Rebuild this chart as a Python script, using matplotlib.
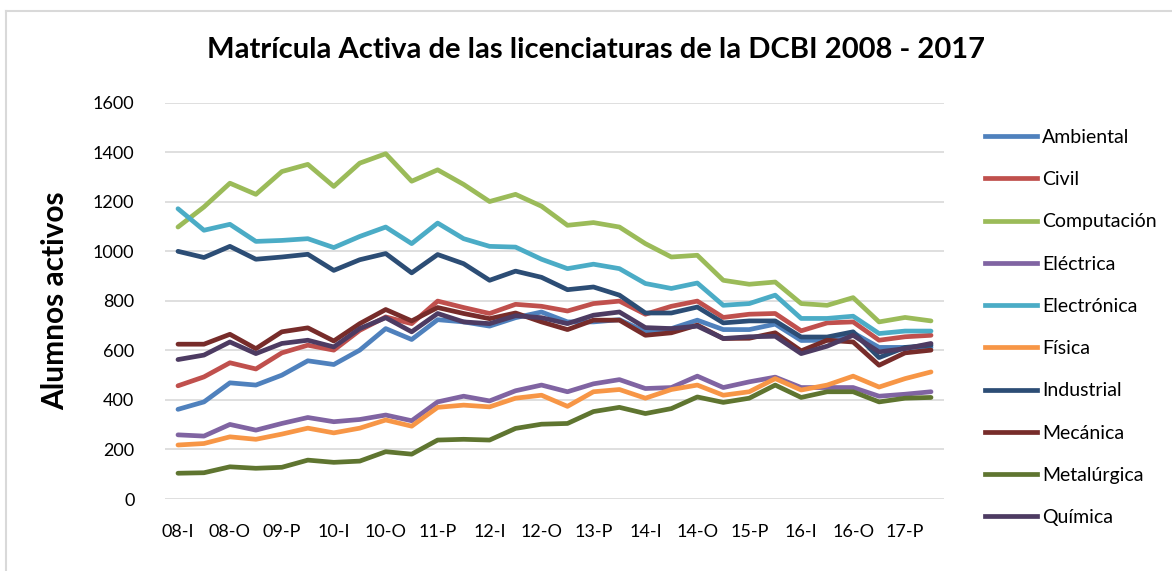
import numpy as np
import matplotlib
matplotlib.use("Agg")
import matplotlib.pyplot as plt
from matplotlib.lines import Line2D

plt.rcParams['font.family'] = ['Lato', 'DejaVu Sans']

# trimestres 08-I ... 17-O
periods = []
for yr in range(8, 18):
    for t in ['I', 'P', 'O']:
        periods.append('%02d-%s' % (yr, t))

ambiental = [362, 392, 469, 460, 500, 558, 543, 601, 688, 644, 724, 715, 698, 732, 755,
             715, 715, 724, 675, 688, 722, 684, 684, 706, 640, 641, 671, 612, 612, 612]
civil = [457, 493, 550, 525, 590, 621, 601, 681, 735, 708, 799, 773, 749, 786, 778,
         759, 789, 799, 746, 778, 799, 733, 746, 749, 679, 711, 715, 641, 655, 661]
computacion = [1098, 1179, 1275, 1230, 1322, 1351, 1262, 1356, 1394, 1283, 1329, 1270, 1201, 1230, 1182,
               1105, 1116, 1098, 1031, 977, 984, 883, 867, 876, 789, 782, 813, 715, 733, 719]
electrica = [259, 254, 301, 278, 305, 329, 312, 321, 339, 316, 392, 415, 396, 437, 460,
             433, 465, 482, 446, 450, 496, 450, 473, 492, 450, 450, 450, 415, 423, 433]
electronica = [1172, 1085, 1109, 1040, 1044, 1051, 1015, 1060, 1098, 1031, 1114, 1051, 1020, 1017, 968,
               930, 948, 930, 870, 850, 872, 782, 789, 823, 729, 729, 738, 668, 678, 678]
fisica = [218, 224, 251, 241, 262, 286, 267, 286, 319, 294, 370, 379, 372, 407, 419,
          374, 433, 442, 407, 442, 460, 419, 433, 486, 440, 460, 496, 452, 486, 513]
industrial = [1000, 975, 1020, 968, 977, 988, 923, 966, 991, 913, 987, 950, 883, 920, 895,
              845, 856, 823, 751, 751, 775, 711, 719, 719, 654, 654, 675, 571, 612, 621]
mecanica = [625, 625, 665, 607, 675, 691, 638, 708, 765, 719, 773, 749, 728, 751, 715,
            684, 722, 722, 661, 671, 702, 648, 649, 671, 598, 641, 634, 540, 590, 601]
metalurgica = [104, 106, 130, 124, 128, 157, 148, 153, 191, 181, 238, 241, 238, 285, 302,
               305, 353, 370, 345, 365, 412, 390, 407, 460, 410, 433, 433, 392, 407, 410]
quimica = [563, 581, 634, 587, 628, 641, 614, 688, 732, 675, 749, 715, 708, 740, 732,
           708, 742, 755, 692, 688, 698, 648, 655, 657, 587, 617, 661, 594, 607, 628]

names = ['Ambiental', 'Civil', 'Computación', 'Eléctrica', 'Electrónica',
         'Física', 'Industrial', 'Mecánica', 'Metalúrgica', 'Química']
series = [ambiental, civil, computacion, electrica, electronica,
          fisica, industrial, mecanica, metalurgica, quimica]
colors = ['#4F81BD', '#C0504D', '#9BBB59', '#8064A2', '#4BACC6',
          '#F79646', '#2C4D75', '#772C2A', '#5F7530', '#4D3B62']

fig = plt.figure(figsize=(11.72, 5.71), dpi=100)
ax = fig.add_axes([165 / 1172, 72 / 571, 779 / 1172, 396.3 / 571])

x = np.arange(len(periods))
for name, vals, c in zip(names, series, colors):
    ax.plot(x, vals, color=c, lw=3.4, label=name, solid_capstyle='round',
            solid_joinstyle='round')

ax.set_xlim(-0.5, len(periods) - 0.5)
ax.set_ylim(0, 1600)
ax.set_yticks(range(0, 1601, 200))
ax.set_xticks(x[::2])
ax.set_xticklabels(periods[::2])
ax.grid(axis='y', color='#d9d9d9', lw=1.2)
ax.set_axisbelow(True)
for s in ax.spines.values():
    s.set_visible(False)
ax.tick_params(length=0, labelsize=13, colors='#000000')
ax.tick_params(axis='y', pad=22)
ax.tick_params(axis='x', pad=18)

ax.set_ylabel('Alumnos activos', fontsize=21.5, fontweight='bold', labelpad=17)
fig.text(596 / 1172, 1 - 50 / 571, 'Matrícula Activa de las licenciaturas de la DCBI 2008 - 2017',
         ha='center', va='center', fontsize=21, fontweight='bold')

handles = [Line2D([], [], color=c, lw=3.4) for c in colors]
fig.legend(handles, names, loc='upper left', bbox_to_anchor=(977 / 1172, 1 - 121 / 571),
           frameon=False, fontsize=14, handlelength=2.7, handletextpad=0.26,
           labelspacing=1.3, borderaxespad=0)

# chart border (top and left visible)
fig.add_artist(Line2D([6 / 1172, 1], [1 - 11 / 571, 1 - 11 / 571], color='#d9d9d9', lw=1.5))
fig.add_artist(Line2D([6 / 1172, 6 / 1172], [0, 1 - 11 / 571], color='#d9d9d9', lw=1.5))

fig.savefig('out.png', dpi=100)
